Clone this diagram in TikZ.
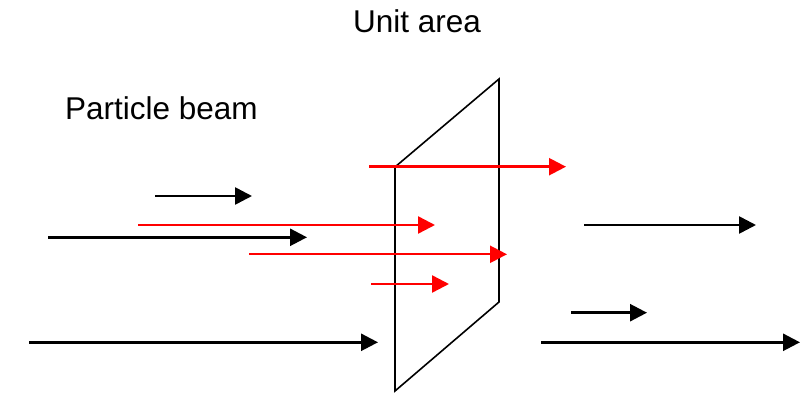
\documentclass[tikz,border=0pt]{standalone}
\usepackage{fontspec}
\setmainfont{Liberation Sans}
\usetikzlibrary{arrows.meta}
\begin{document}
\begin{tikzpicture}[x=1pt,y=-1pt,
  beam/.style={line width=2.6pt,-{Triangle[length=17pt,width=17pt]}},
  blackbeam/.style={beam,draw=black},
  redbeam/.style={beam,line width=2.4pt,draw=red,fill=red},
  lbl/.style={anchor=base west,inner sep=0pt,font=\fontsize{31.5}{36}\selectfont}]
\useasboundingbox (0,0) rectangle (806,398);
% labels
\node[lbl] (unit) at (353,33) {Unit area};
\node[lbl] (beam) at (65,120) {Particle beam};
% unit area (parallelogram)
\coordinate (p1) at (395,167);
\coordinate (p2) at (499,79);
\coordinate (p3) at (499,302);
\coordinate (p4) at (395,391);
\draw[line width=1.6pt,line join=miter] (p1) -- (p2) -- (p3) -- (p4) -- cycle;
% red arrows
\coordinate (r1s) at (369,166.7); \coordinate (r1e) at (566,166.7);
\coordinate (r2s) at (138,225);   \coordinate (r2e) at (435,225);
\coordinate (r3s) at (249,254.3); \coordinate (r3e) at (507,254.3);
\coordinate (r4s) at (371,284);   \coordinate (r4e) at (449,284);
\draw[redbeam] (r1s) -- (r1e);
\draw[redbeam] (r2s) -- (r2e);
\draw[redbeam] (r3s) -- (r3e);
\draw[redbeam] (r4s) -- (r4e);
% black arrows
\coordinate (b1s) at (155,196);   \coordinate (b1e) at (252,196);
\coordinate (b2s) at (48,237.3);  \coordinate (b2e) at (307,237.3);
\coordinate (b3s) at (29,342.3);  \coordinate (b3e) at (378,342.3);
\coordinate (b4s) at (584,225);   \coordinate (b4e) at (756,225);
\coordinate (b5s) at (571,312.7); \coordinate (b5e) at (647,312.7);
\coordinate (b6s) at (541,342.3); \coordinate (b6e) at (800,342.3);
\draw[blackbeam] (b1s) -- (b1e);
\draw[blackbeam] (b2s) -- (b2e);
\draw[blackbeam] (b3s) -- (b3e);
\draw[blackbeam] (b4s) -- (b4e);
\draw[blackbeam] (b5s) -- (b5e);
\draw[blackbeam] (b6s) -- (b6e);
\end{tikzpicture}
\end{document}
